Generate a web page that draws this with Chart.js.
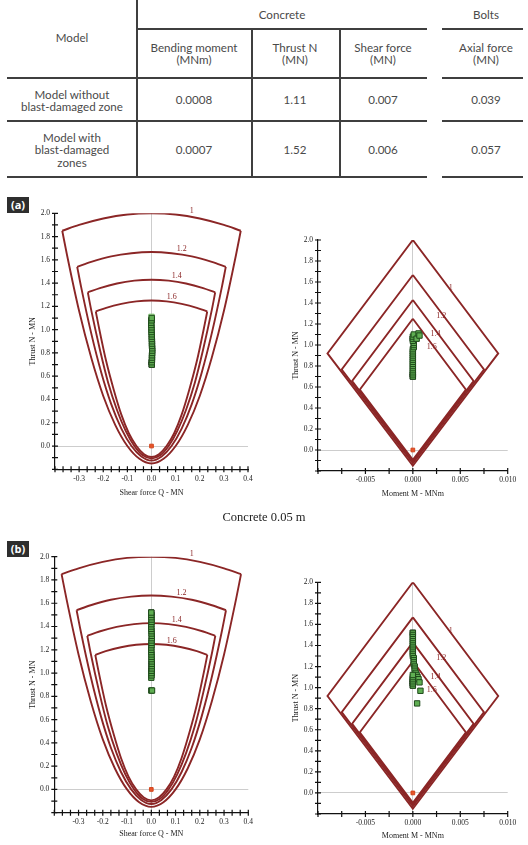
<!DOCTYPE html>
<html>
<head>
<meta charset="utf-8">
<title>Support capacity diagrams</title>
<script src="https://cdn.jsdelivr.net/npm/chart.js@4.4.1/dist/chart.umd.min.js"></script>
<style>
  body { margin:0; width:528px; height:845px; background:#fff; position:relative; overflow:hidden; }
  .ln { position:absolute; background:#3f3f3f; }
  .tx { position:absolute; transform:translate(-50%,-50%); font-family:Lato,'Open Sans',sans-serif; font-size:11.6px; line-height:12.3px; color:#4a4a4a; text-align:center; white-space:nowrap; }
  .tag { position:absolute; left:7px; width:22px; height:16px; background:#2e2e2e; color:#fff; font:bold 11px 'Open Sans',sans-serif; line-height:16px; text-align:center; }
  canvas { position:absolute; }
  #caption { position:absolute; left:0; width:528px; top:510px; text-align:center; font-family:'Liberation Serif',serif; font-size:12.5px; color:#222; }
</style>
</head>
<body>

<!-- table lines -->
<div class="ln" style="left:136px;top:0;width:2px;height:178px"></div>
<div class="ln" style="left:251px;top:29px;width:2px;height:149px"></div>
<div class="ln" style="left:339px;top:29px;width:2px;height:149px"></div>
<div class="ln" style="left:137px;top:28px;width:290px;height:2px"></div>
<div class="ln" style="left:442px;top:28px;width:81px;height:2px"></div>
<div class="ln" style="left:7px;top:77px;width:420px;height:2px"></div>
<div class="ln" style="left:442px;top:77px;width:81px;height:2px"></div>
<div class="ln" style="left:7px;top:120px;width:420px;height:2px"></div>
<div class="ln" style="left:442px;top:120px;width:81px;height:2px"></div>
<div class="ln" style="left:7px;top:176px;width:420px;height:2px"></div>
<div class="ln" style="left:442px;top:176px;width:81px;height:2px"></div>

<!-- table text -->
<div class="tx" style="left:72px;top:38px">Model</div>
<div class="tx" style="left:282px;top:15px">Concrete</div>
<div class="tx" style="left:486px;top:15px">Bolts</div>
<div class="tx" style="left:194px;top:54px">Bending moment<br>(MNm)</div>
<div class="tx" style="left:295px;top:54px">Thrust N<br>(MN)</div>
<div class="tx" style="left:383px;top:54px">Shear force<br>(MN)</div>
<div class="tx" style="left:486px;top:54px">Axial force<br>(MN)</div>
<div class="tx" style="left:72px;top:101px">Model without<br>blast-damaged zone</div>
<div class="tx" style="left:194px;top:100px">0.0008</div>
<div class="tx" style="left:295px;top:100px">1.11</div>
<div class="tx" style="left:383px;top:100px">0.007</div>
<div class="tx" style="left:486px;top:100px">0.039</div>
<div class="tx" style="left:72px;top:150px">Model with<br>blast-damaged<br>zones</div>
<div class="tx" style="left:194px;top:150px">0.0007</div>
<div class="tx" style="left:295px;top:150px">1.52</div>
<div class="tx" style="left:383px;top:150px">0.006</div>
<div class="tx" style="left:486px;top:150px">0.057</div>

<canvas id="aShear" width="264" height="320" style="left:0;top:190px"></canvas>
<canvas id="aMoment" width="264" height="320" style="left:264px;top:190px"></canvas>
<canvas id="bShear" width="264" height="325" style="left:0;top:520px"></canvas>
<canvas id="bMoment" width="264" height="325" style="left:264px;top:520px"></canvas>

<div class="tag" style="top:197px">(a)</div>
<div class="tag" style="top:541px">(b)</div>
<div id="caption">Concrete 0.05 m</div>

<script>
// ---- capacity envelopes: shear force Q (MN) vs thrust N (MN), factor of safety 1 / 1.2 / 1.4 / 1.6
const shearTopQ1 = [-0.37, -0.30, -0.20, -0.10, 0, 0.10, 0.20, 0.30, 0.37];
const shearTopN1 = [1.85, 1.90, 1.955, 1.99, 2.00, 1.99, 1.955, 1.90, 1.85];
const shearBotQ1 = [-0.37, -0.35, -0.30, -0.25, -0.20, -0.15, -0.10, -0.05, 0, 0.05, 0.10, 0.15, 0.20, 0.25, 0.30, 0.35, 0.37];
const shearBotN1 = [1.85, 1.64, 1.16, 0.76, 0.43, 0.18, 0.00, -0.11, -0.15, -0.11, 0.00, 0.18, 0.43, 0.76, 1.16, 1.64, 1.85];

const shearTopQ12 = [-0.308, -0.25, -0.167, -0.083, 0, 0.083, 0.167, 0.25, 0.308];
const shearTopN12 = [1.54, 1.583, 1.63, 1.657, 1.667, 1.657, 1.63, 1.583, 1.54];
const shearBotQ12 = [-0.308, -0.292, -0.25, -0.208, -0.167, -0.125, -0.083, -0.042, 0, 0.042, 0.083, 0.125, 0.167, 0.208, 0.25, 0.292, 0.308];
const shearBotN12 = [1.54, 1.37, 0.97, 0.63, 0.36, 0.15, 0.00, -0.09, -0.125, -0.09, 0.00, 0.15, 0.36, 0.63, 0.97, 1.37, 1.54];

const shearTopQ14 = [-0.264, -0.214, -0.143, -0.071, 0, 0.071, 0.143, 0.214, 0.264];
const shearTopN14 = [1.32, 1.357, 1.397, 1.421, 1.429, 1.421, 1.397, 1.357, 1.32];
const shearBotQ14 = [-0.264, -0.25, -0.214, -0.179, -0.143, -0.107, -0.071, -0.036, 0, 0.036, 0.071, 0.107, 0.143, 0.179, 0.214, 0.25, 0.264];
const shearBotN14 = [1.32, 1.17, 0.83, 0.54, 0.31, 0.13, 0.00, -0.08, -0.107, -0.08, 0.00, 0.13, 0.31, 0.54, 0.83, 1.17, 1.32];

const shearTopQ16 = [-0.231, -0.188, -0.125, -0.0625, 0, 0.0625, 0.125, 0.188, 0.231];
const shearTopN16 = [1.156, 1.188, 1.222, 1.243, 1.25, 1.243, 1.222, 1.188, 1.156];
const shearBotQ16 = [-0.231, -0.219, -0.188, -0.156, -0.125, -0.094, -0.0625, -0.031, 0, 0.031, 0.0625, 0.094, 0.125, 0.156, 0.188, 0.219, 0.231];
const shearBotN16 = [1.156, 1.03, 0.73, 0.48, 0.27, 0.11, 0.00, -0.07, -0.094, -0.07, 0.00, 0.11, 0.27, 0.48, 0.73, 1.03, 1.156];

// ---- capacity envelopes: moment M (MNm) vs thrust N (MN)
const momentM1 = [0, 0.0090, 0, -0.0090, 0];
const momentN1 = [2.00, 0.92, -0.15, 0.92, 2.00];
const momentM12 = [0, 0.0075, 0, -0.0075, 0];
const momentN12 = [1.667, 0.767, -0.125, 0.767, 1.667];
const momentM14 = [0, 0.0064, 0, -0.0064, 0];
const momentN14 = [1.429, 0.657, -0.107, 0.657, 1.429];
const momentM16 = [0, 0.0056, 0, -0.0056, 0];
const momentN16 = [1.25, 0.575, -0.094, 0.575, 1.25];

// factor of safety labels
const fsText = ['1', '1.2', '1.4', '1.6'];
const shearLabelQ = [0.167, 0.125, 0.105, 0.084];
const shearLabelN = [2.02, 1.69, 1.46, 1.28];
const momentLabelM = [0.0040, 0.0030, 0.0024, 0.0020];
const momentLabelN = [1.54, 1.28, 1.105, 0.98];

// ---- (a) model without blast-damaged zone: liner element forces
const aShearQ = [0.001, 0.001, 0.002, 0.002, 0.002, 0.003, 0.003, 0.003, 0.002, 0.002, 0.002, 0.001, 0.001, 0.001, 0.000, 0.000, 0.000, -0.001, -0.001, 0.000, 0.001];
const aShearN = [0.70, 0.72, 0.74, 0.76, 0.78, 0.80, 0.82, 0.84, 0.86, 0.88, 0.90, 0.92, 0.94, 0.96, 0.98, 1.00, 1.02, 1.04, 1.06, 1.08, 1.10];
const aShearDarkQ = [0.001, 0.001, 0.000];
const aShearDarkN = [0.70, 0.72, 1.08];
const aShearLightQ = [0.000];
const aShearLightN = [1.11];

const aMomentM = [0, 0, 0, 0, 0, 0, 0, 0, 0, 0, 0, 0, 0, 0, 0.0001, 0.0001, 0.0001, 0, 0, 0, 0.0001, 0.0004, 0.0006, 0.0007];
const aMomentN = [0.70, 0.72, 0.74, 0.76, 0.78, 0.80, 0.82, 0.84, 0.86, 0.88, 0.90, 0.92, 0.94, 0.96, 0.98, 1.00, 1.02, 1.04, 1.06, 1.08, 1.10, 1.06, 1.11, 1.09];
const aMomentDarkM = [0, 0, 0];
const aMomentDarkN = [0.70, 0.72, 1.06];

// ---- (b) model with blast-damaged zones
const bShearQ = [0.000, 0.001, 0.001, 0.001, 0.002, 0.002, 0.002, 0.002, 0.001, 0.001, 0.001, 0.000, 0.000, 0.000, 0.001, 0.001, 0.001, 0.002, 0.002, 0.001, 0.001, 0.000, 0.000, 0.000, 0.001, 0.001, 0.000, 0.000, 0.000, 0.000, 0.003];
const bShearN = [0.96, 0.98, 1.00, 1.02, 1.04, 1.06, 1.08, 1.10, 1.12, 1.14, 1.16, 1.18, 1.20, 1.22, 1.24, 1.26, 1.28, 1.30, 1.32, 1.34, 1.36, 1.38, 1.40, 1.42, 1.44, 1.46, 1.48, 1.50, 1.52, 0.85, 0.85];
const bShearDarkQ = [0.001, 0.001, 0.002, 0.002, 0.002, 0.002, 0.000, 0.000];
const bShearDarkN = [1.00, 1.02, 1.04, 1.06, 1.08, 1.10, 1.50, 1.52];

const bMomentM = [0, 0, 0, 0, 0, 0, 0, 0, 0, 0, 0, 0, 0.0001, 0.0001, 0.0001, 0.0001, 0.0002, 0.0002, 0.0002, 0.0003, 0.0004, 0.0005, 0.0006, 0.0007, 0.0008, 0.00045, 0, 0, 0, 0, 0, 0];
const bMomentN = [1.52, 1.50, 1.48, 1.46, 1.44, 1.42, 1.40, 1.38, 1.36, 1.34, 1.32, 1.30, 1.28, 1.26, 1.24, 1.22, 1.20, 1.18, 1.16, 1.14, 1.12, 1.10, 1.08, 1.05, 0.97, 0.85, 1.02, 1.04, 1.06, 1.08, 1.10, 1.12];
const bMomentDarkM = [0, 0, 0, 0, 0];
const bMomentDarkN = [1.02, 1.04, 1.06, 1.08, 1.52];

// bolt marker (origin)
const boltX = [0];
const boltN = [0];

const ENV = '#8b2626';
const SERIF = "'Liberation Serif', 'DejaVu Serif', serif";

function zip(xs, ys) { return xs.map((x, i) => ({ x: x, y: ys[i] })); }

function envelope(xs, ys, smooth) {
  return {
    data: zip(xs, ys), showLine: true, borderColor: ENV, borderWidth: 1.9,
    pointRadius: 0, tension: smooth ? 0.4 : 0,
    cubicInterpolationMode: smooth ? 'monotone' : 'default', order: 5
  };
}

function squares(xs, ys, fill, edge, r) {
  return {
    data: zip(xs, ys), showLine: false, pointStyle: 'rect', pointRadius: r,
    backgroundColor: fill, borderColor: edge, borderWidth: 1, order: 1
  };
}

function isMajor(v, m) { return Math.abs(v / m - Math.round(v / m)) < 1e-6; }

// ticks that cross the axis line, like the original plot
const crossTicks = {
  id: 'crossTicks',
  afterDraw(chart) {
    const ctx = chart.ctx, a = chart.chartArea;
    ctx.save();
    ctx.strokeStyle = '#111';
    ctx.lineWidth = 1.2;
    ctx.beginPath();
    chart.scales.x.ticks.forEach(t => {
      const p = chart.scales.x.getPixelForValue(t.value);
      ctx.moveTo(p, a.bottom - 3); ctx.lineTo(p, a.bottom + 3);
    });
    chart.scales.y.ticks.forEach(t => {
      const p = chart.scales.y.getPixelForValue(t.value);
      ctx.moveTo(a.left - 3, p); ctx.lineTo(a.left + 3, p);
    });
    ctx.stroke();
    ctx.restore();
  }
};

const fsLabels = {
  id: 'fsLabels',
  afterDatasetsDraw(chart, args, opts) {
    const ctx = chart.ctx;
    ctx.save();
    ctx.fillStyle = '#8b2626';
    ctx.font = '8px ' + SERIF;
    ctx.textAlign = 'center';
    ctx.textBaseline = 'middle';
    opts.text.forEach((t, i) => {
      ctx.fillText(t, chart.scales.x.getPixelForValue(opts.xs[i]), chart.scales.y.getPixelForValue(opts.ys[i]));
    });
    ctx.restore();
  }
};

function stepTicks(major, per) {
  return scale => {
    const step = major / per;
    const n = Math.round((scale.max - scale.min) / step);
    const out = [];
    for (let i = 0; i <= n; i++) out.push({ value: +(scale.min + i * step).toFixed(10) });
    scale.ticks = out;
  };
}

function makeChart(id, c) {
  const tickFont = { family: SERIF, size: 7.5 };
  const titleFont = { family: SERIF, size: 8 };
  const zeroGrid = ctx => Math.abs(ctx.tick.value) < 1e-9 ? '#cdcdcd' : 'rgba(0,0,0,0)';
  return new Chart(document.getElementById(id), {
    type: 'scatter',
    data: { datasets: c.datasets },
    options: {
      responsive: false,
      animation: false,
      layout: { padding: c.pad },
      plugins: {
        legend: { display: false },
        tooltip: { enabled: false },
        fsLabels: { text: fsText, xs: c.labelX, ys: c.labelY }
      },
      scales: {
        x: {
          type: 'linear', min: c.xMin, max: c.xMax,
          afterBuildTicks: stepTicks(c.xMajor, c.xPer),
          afterFit: s => { s.height = c.xHeight; },
          ticks: {
            autoSkip: false, maxRotation: 0, padding: 5, color: '#222', font: tickFont,
            callback: v => (isMajor(v, c.xMajor) && v > c.xMin + 1e-9) ? (Math.abs(v) < 1e-9 ? 0 : v).toFixed(c.xDigits) : ''
          },
          grid: { drawTicks: false, color: zeroGrid, lineWidth: 1 },
          border: { color: '#111', width: 1.2 },
          title: { display: true, text: c.xTitle, font: titleFont, color: '#222', padding: 0 }
        },
        y: {
          type: 'linear', min: -0.2, max: 2.0,
          afterBuildTicks: stepTicks(0.2, 2),
          afterFit: s => { s.width = c.yWidth; },
          ticks: {
            autoSkip: false, padding: 5, color: '#222', font: tickFont,
            callback: v => (isMajor(v, 0.2) && v > -1e-9) ? (Math.abs(v) < 1e-9 ? 0 : v).toFixed(1) : ''
          },
          grid: { drawTicks: false, color: zeroGrid, lineWidth: 1 },
          border: { color: '#111', width: 1.2 },
          title: { display: true, text: 'Thrust N - MN', font: titleFont, color: '#222', padding: 0 }
        }
      }
    },
    plugins: [crossTicks, fsLabels]
  });
}

const shearEnvelopes = [
  envelope(shearTopQ1, shearTopN1, true), envelope(shearBotQ1, shearBotN1, true),
  envelope(shearTopQ12, shearTopN12, true), envelope(shearBotQ12, shearBotN12, true),
  envelope(shearTopQ14, shearTopN14, true), envelope(shearBotQ14, shearBotN14, true),
  envelope(shearTopQ16, shearTopN16, true), envelope(shearBotQ16, shearBotN16, true)
];
const momentEnvelopes = [
  envelope(momentM1, momentN1, false), envelope(momentM12, momentN12, false),
  envelope(momentM14, momentN14, false), envelope(momentM16, momentN16, false)
];

const GREEN = '#5fae52', GREEN_EDGE = '#1f4a1b', DARK_EDGE = '#0c0c0c', DARK_FILL = '#3a6f33';
const bolt = () => squares(boltX, boltN, '#e8552a', '#d2441c', 2.6);

const shearAxes = { xMin: -0.4, xMax: 0.4, xMajor: 0.1, xPer: 3, xDigits: 1, xTitle: 'Shear force Q - MN', labelX: shearLabelQ, labelY: shearLabelN };
const momentAxes = { xMin: -0.01, xMax: 0.01, xMajor: 0.005, xPer: 2, xDigits: 3, xTitle: 'Moment M - MNm', labelX: momentLabelM, labelY: momentLabelN };

makeChart('aShear', Object.assign({}, shearAxes, {
  pad: { left: 28, top: 23.3, right: 16, bottom: 11.9 }, yWidth: 27, xHeight: 28.8,
  datasets: [squares(aShearQ, aShearN, GREEN, GREEN_EDGE, 3.8), squares(aShearDarkQ, aShearDarkN, DARK_FILL, DARK_EDGE, 3.8),
             squares(aShearLightQ, aShearLightN, '#a6dc98', '#7cbf6e', 3.8), bolt()].concat(shearEnvelopes)
}));

makeChart('aMoment', Object.assign({}, momentAxes, {
  pad: { left: 27.5, top: 50, right: 20.3, bottom: 11.2 }, yWidth: 26.5, xHeight: 27.8,
  datasets: [squares(aMomentM, aMomentN, GREEN, GREEN_EDGE, 3.8), squares(aMomentDarkM, aMomentDarkN, DARK_FILL, DARK_EDGE, 3.8), bolt()].concat(momentEnvelopes)
}));

makeChart('bShear', Object.assign({}, shearAxes, {
  pad: { left: 28, top: 36.7, right: 15.7, bottom: 5.9 }, yWidth: 26.3, xHeight: 26.4,
  datasets: [squares(bShearQ, bShearN, GREEN, GREEN_EDGE, 3.8), squares(bShearDarkQ, bShearDarkN, DARK_FILL, DARK_EDGE, 3.8), bolt()].concat(shearEnvelopes)
}));

makeChart('bMoment', Object.assign({}, momentAxes, {
  pad: { left: 27, top: 62.3, right: 20.3, bottom: 4.2 }, yWidth: 27, xHeight: 26.8,
  datasets: [squares(bMomentM, bMomentN, GREEN, GREEN_EDGE, 3.8), squares(bMomentDarkM, bMomentDarkN, DARK_FILL, DARK_EDGE, 3.8), bolt()].concat(momentEnvelopes)
}));
</script>
</body>
</html>
